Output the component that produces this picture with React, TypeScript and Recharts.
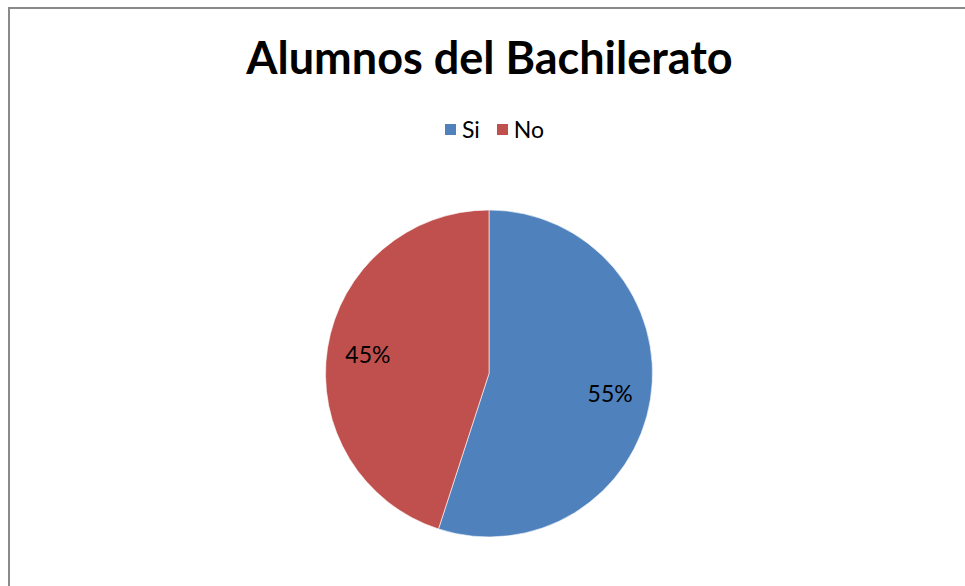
import { PieChart, Pie, Cell } from 'recharts'

const CATEGORIES = ['Si', 'No']
const VALUES = [55, 45]
const COLORS = ['#4F81BD', '#C0504D']

const FONT = 'Lato, "Open Sans", sans-serif'

const data = CATEGORIES.map((name, i) => ({ name, value: VALUES[i] }))

const RAD = Math.PI / 180

const PctLabel = ({ cx, cy, midAngle, outerRadius, percent }: any) => {
  const r = outerRadius * 0.75
  const x = cx + r * Math.cos(-midAngle * RAD)
  const y = cy + r * Math.sin(-midAngle * RAD)
  return (
    <text x={x} y={y} fill="#000" fontSize={23} fontFamily={FONT}
      textAnchor="middle" dominantBaseline="central">
      {`${Math.round(percent * 100)}%`}
    </text>
  )
}

const LegendBox = () => (
  <div style={{ display: 'flex', justifyContent: 'center', gap: 17, fontFamily: FONT, fontSize: 23, color: '#000', lineHeight: '26px' }}>
    {data.map((d, i) => (
      <div key={d.name} style={{ display: 'flex', alignItems: 'center', gap: 6 }}>
        <span style={{ width: 11, height: 11, background: COLORS[i], display: 'inline-block' }} />
        {d.name}
      </div>
    ))}
  </div>
)

export default function App() {
  return (
    <div style={{ position: 'fixed', left: 0, top: 0, width: 965, height: 586, overflow: 'hidden', background: '#fff' }}>
      <div style={{ position: 'absolute', left: 8, top: 7, width: 2000, height: 2000, border: '2px solid #8a8a8a', boxSizing: 'border-box' }} />
      <div style={{ position: 'absolute', left: 0, top: 0 }}>
        <PieChart width={965} height={586} margin={{ top: 0, right: 0, bottom: 0, left: 0 }}>
          <Pie data={data} dataKey="value" nameKey="name" cx={489} cy={373.5}
            outerRadius={163.5} startAngle={90} endAngle={-270}
            stroke="#fff" strokeWidth={0.6} label={PctLabel} labelLine={false}
            isAnimationActive={false}>
            {data.map((d, i) => <Cell key={d.name} fill={COLORS[i]} />)}
          </Pie>
        </PieChart>
      </div>
      <div style={{ position: 'absolute', left: 0, top: 30, width: 979, textAlign: 'center', fontFamily: FONT, fontWeight: 700, fontSize: 45, color: '#000' }}>
        Alumnos del Bachilerato
      </div>
      <div style={{ position: 'absolute', left: 0, top: 116, width: 989 }}>
        <LegendBox />
      </div>
    </div>
  )
}
